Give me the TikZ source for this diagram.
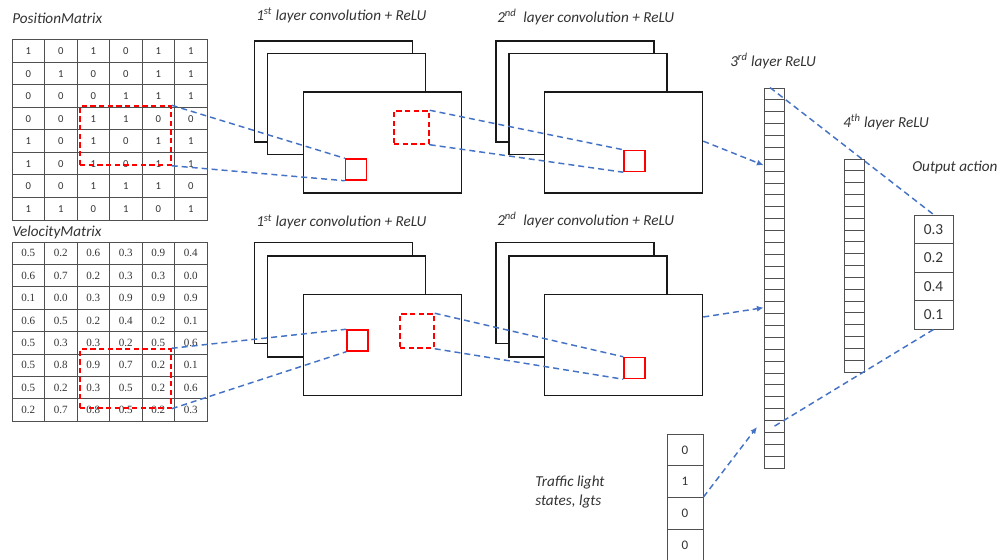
\documentclass[tikz,border=0pt]{standalone}
\usepackage{fontspec}
\setmainfont{Carlito}
\newfontfamily\numserif{Liberation Serif}
\usetikzlibrary{arrows.meta}
\definecolor{lblue}{HTML}{4472C4}
\definecolor{txtgray}{HTML}{333333}
\definecolor{gridgray}{HTML}{505050}
\begin{document}
\begin{tikzpicture}[x=0.75pt,y=-0.75pt,
 lbl/.style={anchor=west, inner sep=0pt, font=\fontsize{11.4pt}{13pt}\selectfont\itshape, text=txtgray},
 pcell/.style={draw=gridgray, line width=0.75pt, minimum width=24.375pt, minimum height=16.875pt, inner sep=0pt, font=\fontsize{8pt}{9pt}\selectfont, text=txtgray},
 vcell/.style={pcell, minimum height=16.8pt, font=\numserif\fontsize{8.3pt}{9pt}\selectfont},
 frame/.style={draw=black!90, line width=1.15pt, fill=white, minimum width=118.5pt, minimum height=75.75pt, inner sep=0pt},
 redsq/.style={draw=red, line width=1.1pt, minimum width=15.75pt, minimum height=15.75pt, inner sep=0pt},
 reddash/.style={draw=red, line width=1.1pt, dash pattern=on 4pt off 2.5pt, inner sep=0pt},
 link/.style={draw=lblue, line width=1.1pt, dash pattern=on 4.5pt off 3pt},
 arr/.style={link, -{Latex[length=5pt,width=4.5pt]}},
 fcthree/.style={draw=gridgray, line width=0.65pt, minimum width=15pt, minimum height=8.906pt, inner sep=0pt},
 fcfour/.style={draw=gridgray, line width=0.65pt, minimum width=15pt, minimum height=8.875pt, inner sep=0pt},
 outcell/.style={draw=gridgray, line width=0.75pt, minimum width=29.25pt, minimum height=21.375pt, inner sep=0pt, font=\fontsize{11.5pt}{13pt}\selectfont, text=txtgray},
 tlcell/.style={draw=gridgray, line width=0.75pt, minimum width=27pt, minimum height=23.81pt, inner sep=0pt, font=\fontsize{9.8pt}{11pt}\selectfont, text=txtgray}
]
\useasboundingbox (0,0) rectangle (1001,560);

% labels
\node[lbl] (lpos) at (12,18) {PositionMatrix};
\node[lbl] (lvel) at (12,232) {VelocityMatrix};
\node[lbl] (lc1t) at (256,15.5) {1\textsuperscript{st} layer convolution + ReLU};
\node[lbl] (lc2t) at (497,17) {2\textsuperscript{nd}\hspace{0.45em}layer convolution + ReLU};
\node[lbl] (lc1b) at (256,222) {1\textsuperscript{st} layer convolution + ReLU};
\node[lbl] (lc2b) at (497,220) {2\textsuperscript{nd}\hspace{0.45em}layer convolution + ReLU};
\node[lbl] (l3lab) at (730,61) {3\textsuperscript{rd} layer ReLU};
\node[lbl] (l4lab) at (843,122) {4\textsuperscript{th} layer ReLU};
\node[lbl] (outlab) at (912,167) {Output action};
\node[lbl, align=left, font=\fontsize{11.4pt}{14.25pt}\selectfont\itshape] (tllab) at (535,492) {Traffic light\\states, lgts};

% position matrix
\foreach \row [count=\r] in {{1,0,1,0,1,1},{0,1,0,0,1,1},{0,0,0,1,1,1},{0,0,1,1,0,0},{1,0,1,0,1,1},{1,0,1,0,1,1},{0,0,1,1,1,0},{1,1,0,1,0,1}}{
  \foreach \v [count=\c] in \row {
    \node[pcell] (p-\r-\c) at ({12+32.5*(\c-0.5)},{40+22.5*(\r-0.5)}) {\v};
  }
}
% velocity matrix
\foreach \row [count=\r] in {{0.5,0.2,0.6,0.3,0.9,0.4},{0.6,0.7,0.2,0.3,0.3,0.0},{0.1,0.0,0.3,0.9,0.9,0.9},{0.6,0.5,0.2,0.4,0.2,0.1},{0.5,0.3,0.3,0.2,0.5,0.6},{0.5,0.8,0.9,0.7,0.2,0.1},{0.5,0.2,0.3,0.5,0.2,0.6},{0.2,0.7,0.8,0.5,0.2,0.3}}{
  \foreach \v [count=\c] in \row {
    \node[vcell] (v-\r-\c) at ({12+32.5*(\c-0.5)},{242+22.4*(\r-0.5)}) {\v};
  }
}
\node[reddash, minimum width=68.25pt, minimum height=44.25pt] (pw) at (125.5,135.5) {};
\node[reddash, minimum width=68.25pt, minimum height=44.25pt] (vw) at (125.5,378.5) {};

% conv frames top
\node[frame] (c1ta) at (333.5,91.5) {};
\node[frame] (c1tb) at (346.5,104) {};
\node[frame] (c1tc) at (382.5,142.5) {};
\node[frame] (c2ta) at (575,91.5) {};
\node[frame] (c2tb) at (588,104) {};
\node[frame] (c2tc) at (623.5,142.5) {};
% conv frames bottom
\node[frame] (c1ba) at (333.5,293) {};
\node[frame] (c1bb) at (346.5,306.5) {};
\node[frame] (c1bc) at (382.5,345) {};
\node[frame] (c2ba) at (575,293) {};
\node[frame] (c2bb) at (588,306.5) {};
\node[frame] (c2bc) at (623.5,345) {};

% red squares
\node[redsq] (sq1t) at (356,169.5) {};
\node[reddash, minimum width=26.25pt, minimum height=24.75pt] (dq1t) at (411.5,127.5) {};
\node[redsq] (sq2t) at (634.5,161) {};
\node[redsq] (sq1b) at (357.5,340.5) {};
\node[reddash, minimum width=25.5pt, minimum height=25.5pt] (dq1b) at (417,331) {};
\node[redsq] (sq2b) at (634.5,368) {};

% 3rd layer
\foreach \i in {1,...,32} \node[fcthree] (l3-\i) at (774,{88+11.875*(\i-0.5)}) {};
% 4th layer
\foreach \i in {1,...,18} \node[fcfour] (l4-\i) at (854,{159+11.833*(\i-0.5)}) {};
% output
\foreach \v [count=\i] in {0.3,0.2,0.4,0.1} \node[outcell] (out-\i) at (933.5,{215+28.5*(\i-0.5)}) {\v};
% traffic lights
\foreach \v [count=\i] in {0,1,0,0} \node[tlcell] (tl-\i) at (685,{434+31.75*(\i-0.5)}) {\v};

% connectors
\draw[link] (pw.north east) -- (sq1t.north west);
\draw[link] (pw.south east) -- (sq1t.south west);
\draw[link] (dq1t.north east) -- (sq2t.north west);
\draw[link] (dq1t.south east) -- (sq2t.south west);
\draw[arr] ([yshift=1pt]c2tc.east) -- (l3-7.west);
\draw[link] (vw.north east) -- (sq1b.north west);
\draw[link] (vw.south east) -- (sq1b.south west);
\draw[link] (dq1b.north east) -- (sq2b.north west);
\draw[link] (dq1b.south east) -- (sq2b.south west);
\draw[arr] ([yshift=21pt]c2bc.east) -- (l3-19.west);
\coordinate (tlend) at (757,427);
\draw[arr] (tl-3.north east) -- (tlend);
\draw[link] ([xshift=-3pt]l3-1.north) -- (out-1.north);
\draw[link] (out-4.south) -- (l3-29.center);
\end{tikzpicture}
\end{document}
